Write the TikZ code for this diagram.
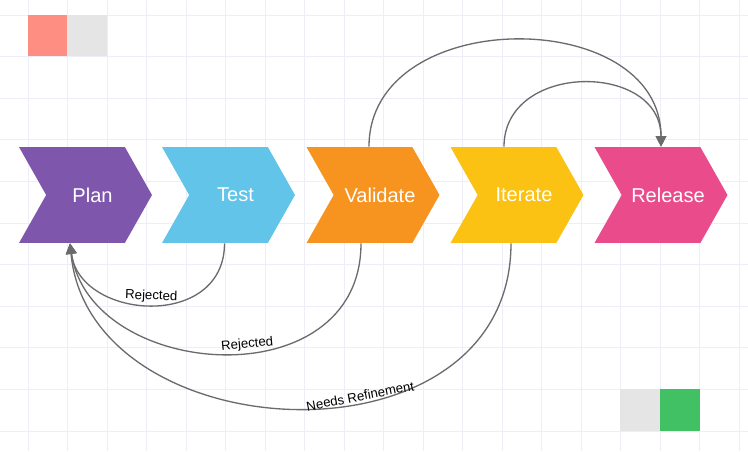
\documentclass[tikz,border=0pt]{standalone}
\usepackage{fontspec}
\setmainfont{Liberation Sans}
\usetikzlibrary{arrows.meta,shapes.symbols}

\definecolor{cplan}{HTML}{7E57AD}
\definecolor{ctest}{HTML}{62C4E9}
\definecolor{cvalid}{HTML}{F7931F}
\definecolor{citer}{HTML}{FBC214}
\definecolor{crel}{HTML}{E94B8B}
\definecolor{csalmon}{HTML}{FF8E82}
\definecolor{cgreen}{HTML}{42C064}
\definecolor{clight}{HTML}{E5E5E5}
\definecolor{cgrid}{HTML}{EEEEF8}
\definecolor{clink}{HTML}{6B6B6B}

\begin{document}
\begin{tikzpicture}[
  x=0.02cm, y=-0.02cm,
  every node/.style={font=\fontsize{11.4}{13}\selectfont},
  chev/.style={signal, signal from=west, signal to=east, signal pointer angle=121,
    minimum width=2.66cm, minimum height=1.92cm, inner sep=0pt, text=white,
    execute at begin node=\hspace*{0.14cm}, execute at end node=\hspace*{-0.14cm}},
  link/.style={draw=clink, line width=0.75pt, -{Triangle[length=6pt,width=6pt]}},
  lab/.style={font=\fontsize{7.5}{8}\selectfont, sloped, above, inner sep=1pt}
]
  % sfondo e griglia
  \fill[white] (0,0) rectangle (748,451);
  \useasboundingbox (0,0) rectangle (748,451);
  \foreach \i in {0,...,18}
    \draw[cgrid, line width=0.5pt] ({28+39.5*\i},0) -- ({28+39.5*\i},451);
  \foreach \j in {0,...,10}
    \draw[cgrid, line width=0.5pt] (0,{15+41.6*\j}) -- (748,{15+41.6*\j});

  % quadratini
  \fill[csalmon] (28,15) rectangle (67,56);
  \fill[clight] (67,15) rectangle (107,56);
  \fill[clight] (620,389) rectangle (660,431);
  \fill[cgreen] (660,389) rectangle (700,431);

  % fasi
  \node[chev, fill=cplan]  (plan)     at (85.5,195) {Plan};
  \node[chev, fill=ctest]  (test)     at (228.5,195) {Test};
  \node[chev, fill=cvalid] (validate) at (373,195) {Validate};
  \node[chev, fill=citer]  (iterate)  at (517,195) {Iterate};
  \node[chev, fill=crel]   (release)  at (661,195) {Release};

  % ritorni verso Plan
  \draw[link] ([xshift=-0.08cm]test.south) .. controls +(0,87) and +(10,77) .. ([xshift=-0.31cm]plan.south)
    node[lab, pos=0.5] {Rejected};
  \draw[link] ([xshift=-0.24cm]validate.south) .. controls +(0,157) and +(20,137) .. ([xshift=-0.31cm]plan.south)
    node[lab, pos=0.44] {Rejected};
  \draw[link] ([xshift=-0.12cm]iterate.south) .. controls +(0,230) and +(20,210) .. ([xshift=-0.31cm]plan.south)
    node[lab, pos=0.40] {Needs Refinement};

  % salti verso Release
  \draw[link] ([xshift=-0.08cm]validate.north) .. controls +(0,-142) and +(0,-142) .. (release.north);
  \draw[link] ([xshift=-0.26cm]iterate.north) .. controls +(0,-85) and +(0,-85) .. (release.north);
\end{tikzpicture}
\end{document}
